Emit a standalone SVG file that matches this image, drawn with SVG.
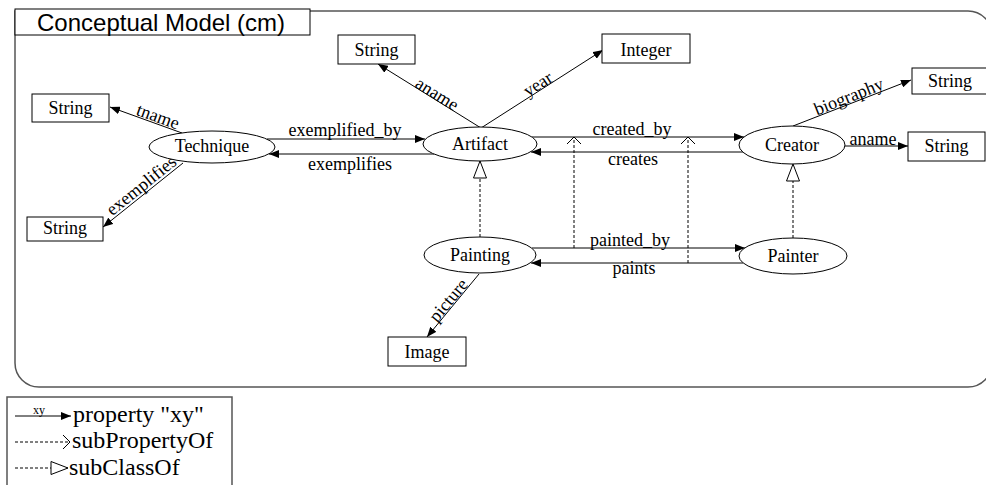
<svg xmlns="http://www.w3.org/2000/svg" width="986" height="485" viewBox="0 0 986 485">
  <style>
    .frame { fill: none; stroke: #555; stroke-width: 1.5; }
    .box { fill: #fff; stroke: #000; stroke-width: 1; }
    .cls { fill: #fff; stroke: #000; stroke-width: 1; }
    .lbl { font-family: "Liberation Serif", "Times New Roman", serif; font-size: 18px; fill: #000; }
    .mid { text-anchor: middle; }
    .title { font-family: "Liberation Sans", Arial, sans-serif; font-size: 24px; fill: #000; }
    .legend { font-family: "Liberation Serif", "Times New Roman", serif; font-size: 24px; fill: #000; }
    .prop { fill: none; stroke: #000; stroke-width: 1; marker-end: url(#arr); }
    .subprop { fill: none; stroke: #000; stroke-width: 1; stroke-dasharray: 3 2; marker-end: url(#vee); }
    .subcls { fill: none; stroke: #000; stroke-width: 1; stroke-dasharray: 3 2; marker-end: url(#tri); }
  </style>
  <defs>
    <marker id="arr" viewBox="0 0 10 8" refX="10" refY="4" markerWidth="10" markerHeight="8" markerUnits="userSpaceOnUse" orient="auto">
      <path d="M0,0 L10,4 L0,8 z" fill="#000"/>
    </marker>
    <marker id="vee" viewBox="-1 -1 9 16" refX="7" refY="7" markerWidth="9" markerHeight="16" markerUnits="userSpaceOnUse" orient="auto">
      <path d="M0,0 L7,7 L0,14" fill="none" stroke="#000" stroke-width="1"/>
    </marker>
    <marker id="tri" viewBox="-1 -1 19 15" refX="17" refY="6.5" markerWidth="19" markerHeight="15" markerUnits="userSpaceOnUse" orient="auto">
      <path d="M0,0 L17,6.5 L0,13 z" fill="#fff" stroke="#000" stroke-width="1"/>
    </marker>
  </defs>

  <rect width="986" height="485" fill="#fff"/>

  <!-- model frame with title tab -->
  <g id="frame">
    <path class="frame" d="M15,11 H968 A24,24 0 0 1 992,35 V363 A24,24 0 0 1 968,387 H39 A24,24 0 0 1 15,363 Z"/>
    <rect x="15" y="9" width="295" height="26" fill="#fff" stroke="#000" stroke-width="1"/>
    <text class="title" x="37" y="31">Conceptual Model (cm)</text>
  </g>

  <!-- connectors -->
  <g id="connectors">
    <!-- properties -->
    <line class="prop" x1="182" y1="133" x2="110" y2="107"/>
    <line class="prop" x1="183" y1="163" x2="103" y2="227"/>
    <line class="prop" x1="267" y1="139" x2="425" y2="139"/>
    <line class="prop" x1="434" y1="154" x2="269" y2="154"/>
    <line class="prop" x1="481" y1="128" x2="378" y2="64"/>
    <line class="prop" x1="481" y1="128" x2="603" y2="50"/>
    <line class="prop" x1="532" y1="137" x2="744" y2="137"/>
    <line class="prop" x1="743" y1="152" x2="531" y2="152"/>
    <line class="prop" x1="793" y1="126" x2="911" y2="80"/>
    <line class="prop" x1="845" y1="146" x2="908" y2="146"/>
    <line class="prop" x1="532" y1="248" x2="745" y2="248"/>
    <line class="prop" x1="743" y1="263" x2="531" y2="263"/>
    <line class="prop" x1="479" y1="274" x2="427" y2="337"/>
    <!-- subPropertyOf -->
    <line class="subprop" x1="574" y1="248" x2="574" y2="137"/>
    <line class="subprop" x1="688" y1="263" x2="688" y2="137"/>
    <!-- subClassOf -->
    <line class="subcls" x1="480" y1="237" x2="480" y2="161"/>
    <line class="subcls" x1="793" y1="238" x2="793" y2="164"/>

    <!-- property labels -->
    <text class="lbl mid" transform="translate(156,122) rotate(19.9)">tname</text>
    <text class="lbl mid" transform="translate(145,190) rotate(-38.7)">exemplifies</text>
    <text class="lbl mid" x="345" y="136">exemplified_by</text>
    <text class="lbl mid" x="350" y="170">exemplifies</text>
    <text class="lbl mid" transform="translate(434,99) rotate(31.9)">aname</text>
    <text class="lbl mid" transform="translate(541,89) rotate(-32.6)">year</text>
    <text class="lbl mid" x="632" y="135">created_by</text>
    <text class="lbl mid" x="633" y="165">creates</text>
    <text class="lbl mid" transform="translate(851,102) rotate(-21.7)">biography</text>
    <text class="lbl mid" x="873" y="145">aname</text>
    <text class="lbl mid" x="630" y="246">painted_by</text>
    <text class="lbl mid" x="634" y="274">paints</text>
    <text class="lbl mid" transform="translate(453,304) rotate(-50.5)">picture</text>
  </g>

  <!-- classes -->
  <g id="technique">
    <ellipse class="cls" cx="212" cy="147" rx="63" ry="16"/>
    <text class="lbl mid" x="212" y="152">Technique</text>
  </g>
  <g id="artifact">
    <ellipse class="cls" cx="480" cy="144" rx="57" ry="17"/>
    <text class="lbl mid" x="480" y="150">Artifact</text>
  </g>
  <g id="creator">
    <ellipse class="cls" cx="792" cy="145" rx="53" ry="19"/>
    <text class="lbl mid" x="792" y="151">Creator</text>
  </g>
  <g id="painting">
    <ellipse class="cls" cx="480" cy="255" rx="56" ry="18"/>
    <text class="lbl mid" x="480" y="261">Painting</text>
  </g>
  <g id="painter">
    <ellipse class="cls" cx="793" cy="256" rx="54" ry="18"/>
    <text class="lbl mid" x="793" y="262">Painter</text>
  </g>

  <!-- literal types -->
  <g id="string-tname">
    <rect class="box" x="32" y="94" width="77" height="28"/>
    <text class="lbl mid" x="70.5" y="114">String</text>
  </g>
  <g id="string-exemplifies">
    <rect class="box" x="27" y="217" width="76" height="24"/>
    <text class="lbl mid" x="65" y="234">String</text>
  </g>
  <g id="string-aname">
    <rect class="box" x="338" y="35" width="77" height="29"/>
    <text class="lbl mid" x="376.5" y="56">String</text>
  </g>
  <g id="integer-year">
    <rect class="box" x="602" y="34" width="88" height="29"/>
    <text class="lbl mid" x="646" y="56">Integer</text>
  </g>
  <g id="string-biography">
    <rect class="box" x="912" y="68" width="77" height="26"/>
    <text class="lbl mid" x="950" y="87">String</text>
  </g>
  <g id="string-creator-aname">
    <rect class="box" x="908" y="132" width="77" height="29"/>
    <text class="lbl mid" x="946.5" y="152">String</text>
  </g>
  <g id="image-picture">
    <rect class="box" x="388" y="337" width="78" height="29"/>
    <text class="lbl mid" x="427" y="358">Image</text>
  </g>

  <!-- legend -->
  <g id="legend">
    <rect x="7" y="397" width="225" height="100" fill="#fff" stroke="#555" stroke-width="1.5"/>
    <line class="prop" x1="15" y1="416" x2="71" y2="416"/>
    <text x="39" y="414" text-anchor="middle" font-family="Liberation Serif, serif" font-size="12">xy</text>
    <text class="legend" x="73" y="422">property "xy"</text>
    <line class="subprop" x1="15" y1="442" x2="70" y2="442"/>
    <text class="legend" x="72" y="448">subPropertyOf</text>
    <line class="subcls" x1="15" y1="468" x2="68" y2="468"/>
    <text class="legend" x="69" y="475">subClassOf</text>
  </g>
</svg>
